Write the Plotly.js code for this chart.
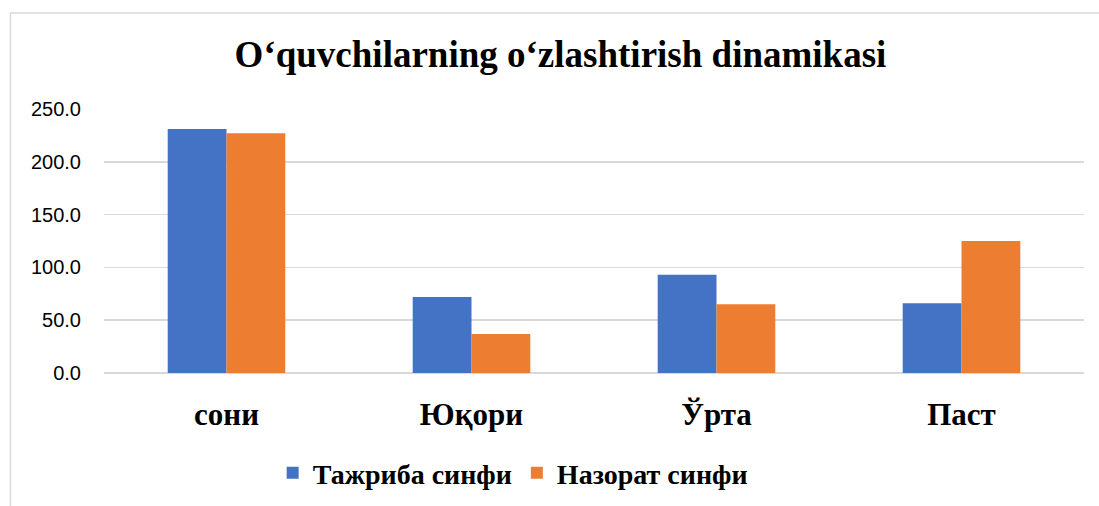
<!DOCTYPE html>
<html>
<head>
<meta charset="utf-8">
<script src="https://cdn.plot.ly/plotly-3.0.1.min.js"></script>
<style>html,body{margin:0;padding:0;background:#fff;}#chart{width:1099px;height:506px;}</style>
</head>
<body>
<div id="chart"></div>
<script>
const categories = ["сони", "Юқори", "Ўрта", "Паст"];
const seriesNames = ["Тажриба синфи", "Назорат синфи"];
const tajribaValues = [231, 72, 93, 66];
const nazoratValues = [227, 37, 65, 125];
const yTickValues = [0, 50, 100, 150, 200, 250];
const yTickLabels = ["0.0", "50.0", "100.0", "150.0", "200.0", "250.0"];
const colors = ["#4472c4", "#ed7d31"];

const serif = "Liberation Serif";
const traces = [
  {type: "bar", name: seriesNames[0], x: categories, y: tajribaValues,
   marker: {color: colors[0]}, hoverinfo: "skip"},
  {type: "bar", name: seriesNames[1], x: categories, y: nazoratValues,
   marker: {color: colors[1]}, hoverinfo: "skip"}
];
const layout = {
  width: 1099, height: 506,
  margin: {l: 104, r: 15, t: 109, b: 133, autoexpand: false},
  paper_bgcolor: "#ffffff", plot_bgcolor: "#ffffff",
  barmode: "group", bargap: 0.52, bargroupgap: 0,
  title: {text: "<b>O‘quvchilarning o‘zlashtirish dinamikasi</b>",
          font: {family: serif, size: 37, color: "#000000"},
          x: 0.51, xanchor: "center", y: 0.893, yanchor: "middle"},
  xaxis: {type: "category", showgrid: false, zeroline: false, showline: false,
          ticks: "", ticklabelstandoff: 20, automargin: false,
          tickfont: {family: serif, size: 31, color: "#000000", weight: "bold"}},
  yaxis: {range: [0, 250], tickvals: yTickValues, ticktext: yTickLabels,
          showgrid: true, gridcolor: "#d9d9d9", gridwidth: 1.5,
          zeroline: true, zerolinecolor: "#d9d9d9", zerolinewidth: 1.5,
          showline: false, ticks: "", ticklabelstandoff: 22, automargin: false,
          tickfont: {family: "Liberation Sans", size: 20, color: "#000000"}},
  showlegend: true,
  legend: {orientation: "h", x: 0.417, xanchor: "center",
           yref: "container", y: 0.065, yanchor: "middle",
           font: {family: serif, size: 28, color: "#000000", weight: "bold"},
           itemwidth: 30, tracegroupgap: 0},
  shapes: [
    {type: "rect", xref: "paper", yref: "paper", x0: -0.0955, x1: 1.05, y0: -0.7, y1: 1.3636,
     line: {color: "#d9d9d9", width: 1.5}, fillcolor: "rgba(0,0,0,0)", layer: "below"}
  ],
  annotations: [
    {text: "<b>2</b>", xref: "paper", yref: "paper", x: 0.995, y: 1.38, xanchor: "center", yanchor: "bottom",
     showarrow: false, font: {family: serif, size: 34, color: "#000000"}}
  ]
};
Plotly.newPlot("chart", traces, layout, {displayModeBar: false, staticPlot: true});
</script>
</body>
</html>
